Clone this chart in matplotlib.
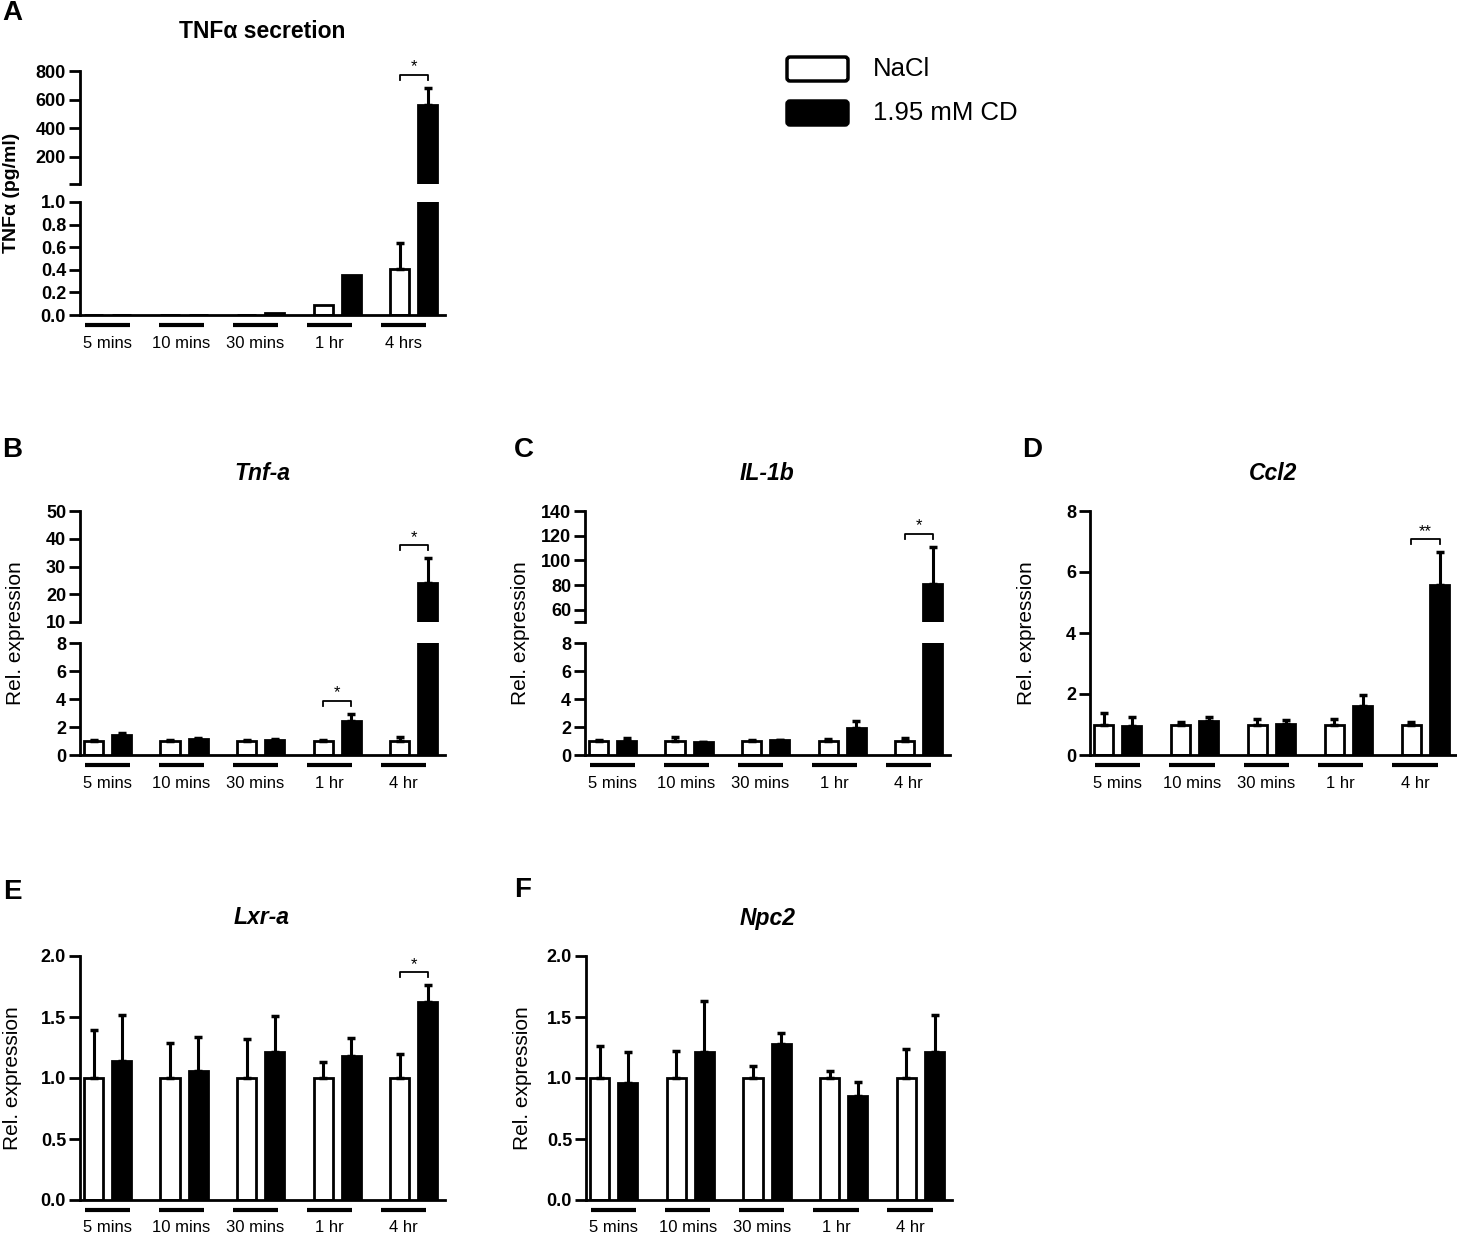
import numpy as np
import matplotlib.pyplot as plt
from matplotlib import transforms
from matplotlib.patches import FancyBboxPatch

plt.rcParams['font.family'] = ['Liberation Sans', 'DejaVu Sans']

W, H = 1457, 1236

groups = ['5 mins', '10 mins', '30 mins', '1 hr', '4 hr']
groups_a = ['5 mins', '10 mins', '30 mins', '1 hr', '4 hrs']

# A: TNFa secretion (pg/ml)
a_nacl = [0, 0, 0, 0.09, 0.41]
a_nacl_err = [0, 0, 0, 0, 0.23]
a_cd = [0, 0, 0.02, 0.35, 563]
a_cd_err = [0, 0, 0, 0, 121]

# B: Tnf-a
b_nacl = [1.0, 1.0, 1.0, 1.0, 1.0]
b_nacl_err = [0.08, 0.06, 0.08, 0.04, 0.3]
b_cd = [1.4, 1.15, 1.05, 2.4, 24]
b_cd_err = [0.15, 0.08, 0.1, 0.55, 9]

# C: IL-1b
c_nacl = [1.0, 1.0, 1.0, 1.0, 1.0]
c_nacl_err = [0.05, 0.3, 0.05, 0.15, 0.25]
c_cd = [1.0, 0.9, 1.05, 1.95, 81]
c_cd_err = [0.25, 0.05, 0.05, 0.45, 30]

# D: Ccl2
d_nacl = [1.0, 1.0, 1.0, 1.0, 1.0]
d_nacl_err = [0.37, 0.08, 0.17, 0.17, 0.07]
d_cd = [0.95, 1.1, 1.02, 1.62, 5.57]
d_cd_err = [0.3, 0.13, 0.12, 0.35, 1.07]

# E: Lxr-a
e_nacl = [1.0, 1.0, 1.0, 1.0, 1.0]
e_nacl_err = [0.39, 0.29, 0.32, 0.13, 0.2]
e_cd = [1.14, 1.06, 1.21, 1.18, 1.62]
e_cd_err = [0.38, 0.28, 0.30, 0.15, 0.14]

# F: Npc2
f_nacl = [1.0, 1.0, 1.0, 1.0, 1.0]
f_nacl_err = [0.26, 0.22, 0.1, 0.06, 0.24]
f_cd = [0.96, 1.21, 1.28, 0.855, 1.21]
f_cd_err = [0.25, 0.42, 0.09, 0.11, 0.31]

OFF = 0.183
WIDTH = 0.25
LW = 2

fig = plt.figure(figsize=(W / 100, H / 100), dpi=100)

# overlay in pixel coords for letters, titles, labels, legend
ov = fig.add_axes([0, 0, 1, 1])
ov.set_xlim(0, W)
ov.set_ylim(H, 0)
ov.axis('off')


def add_ax(left, top, right, bottom):
    ax = fig.add_axes([left / W, 1 - bottom / H, (right - left) / W, (bottom - top) / H])
    ax.patch.set_alpha(0)
    return ax


def style(ax, ylim, ticks, labels, bottom=True):
    ax.set_xlim(-0.36, 4.41)
    ax.set_ylim(*ylim)
    ax.set_yticks(ticks)
    ax.set_yticklabels(labels, fontweight='bold', fontsize=13)
    ax.tick_params(axis='y', length=8, width=2, direction='out', pad=2)
    ax.set_xticks([])
    ax.spines['top'].set_visible(False)
    ax.spines['right'].set_visible(False)
    ax.spines['left'].set_linewidth(2)
    ax.spines['bottom'].set_linewidth(2)
    if not bottom:
        ax.spines['bottom'].set_visible(False)


def draw_bars(ax, nacl, nacl_err, cd, cd_err, floor=None):
    x = np.arange(len(nacl))
    for xs, m, e, fc in [(x - OFF, nacl, nacl_err, 'white'), (x + OFF, cd, cd_err, 'black')]:
        m = np.array(m, float)
        e = np.array(e, float)
        keep = np.ones(len(m), bool) if floor is None else (m + e) > floor
        ax.bar(xs[keep], m[keep], WIDTH, color=fc, edgecolor='black', linewidth=LW, zorder=2)
        k = keep & (e > 0)
        ax.errorbar(xs[k], m[k], yerr=[np.zeros(k.sum()), e[k]], fmt='none',
                    ecolor='black', elinewidth=2.2, capsize=3, capthick=2.5, zorder=3)


def group_labels(ax, labels):
    tr = transforms.blended_transform_factory(ax.transData, ax.transAxes)
    line_tr = transforms.offset_copy(tr, fig=fig, y=-10, units='dots')
    text_tr = transforms.offset_copy(tr, fig=fig, y=-28, units='dots')
    for i, lab in enumerate(labels):
        c = i * 0.966
        ax.plot([c - 0.295, c + 0.295], [0, 0], transform=line_tr, color='black',
                lw=3, clip_on=False, solid_capstyle='butt')
        ax.text(c, 0, lab, transform=text_tr, ha='center', va='center', fontsize=12,
                clip_on=False)


def brackets(ax_lo, ax_hi, nacl, nacl_err, cd, cd_err, sig):
    for i, lab in sig:
        top = max(nacl[i] + nacl_err[i], cd[i] + cd_err[i])
        ax = ax_lo
        if ax_hi is not None and top > ax_lo.get_ylim()[1]:
            ax = ax_hi
        yd = ax.transData.transform((0, top))[1]
        inv = ax.transData.inverted()
        yb = inv.transform((0, yd + 13))[1]
        yt = inv.transform((0, yd + 8))[1]
        ys = inv.transform((0, yd + 21))[1]
        ax.plot([i - OFF, i - OFF, i + OFF, i + OFF], [yt, yb, yb, yt], color='black',
                lw=1.3, clip_on=False)
        ax.text(i, ys, lab, ha='center', va='center', fontsize=12, clip_on=False)


def broken_panel(box_lo, top_hi, bot_hi, lo, hi, data, labels, sig):
    l, t, r, b = box_lo
    ax_lo = add_ax(l, t, r, b)
    ax_hi = add_ax(l, top_hi, r, bot_hi)
    draw_bars(ax_lo, *data)
    draw_bars(ax_hi, *data, floor=hi[0][0])
    style(ax_lo, *lo)
    style(ax_hi, *hi, bottom=False)
    group_labels(ax_lo, labels)
    brackets(ax_lo, ax_hi, *data, sig)
    return ax_lo


def simple_panel(box, ylim, ticks, ticklabels, data, labels, sig):
    ax = add_ax(*box)
    draw_bars(ax, *data)
    style(ax, ylim, ticks, ticklabels)
    group_labels(ax, labels)
    brackets(ax, None, *data, sig)
    return ax


# Panel A
broken_panel((80, 202, 445, 315), 71, 184,
             ((0, 1.0), [0, 0.2, 0.4, 0.6, 0.8, 1.0], ['0.0', '0.2', '0.4', '0.6', '0.8', '1.0']),
             ((10, 800), [10, 200, 400, 600, 800], ['', '200', '400', '600', '800']),
             (a_nacl, a_nacl_err, a_cd, a_cd_err), groups_a, [(4, '*')])

# Panel B
broken_panel((80, 643, 445, 755), 511, 622,
             ((0, 8), [0, 2, 4, 6, 8], ['0', '2', '4', '6', '8']),
             ((10, 50), [10, 20, 30, 40, 50], ['10', '20', '30', '40', '50']),
             (b_nacl, b_nacl_err, b_cd, b_cd_err), groups, [(3, '*'), (4, '*')])

# Panel C
broken_panel((585, 643, 950, 755), 511, 622,
             ((0, 8), [0, 2, 4, 6, 8], ['0', '2', '4', '6', '8']),
             ((50, 140), [50, 60, 80, 100, 120, 140], ['', '60', '80', '100', '120', '140']),
             (c_nacl, c_nacl_err, c_cd, c_cd_err), groups, [(4, '*')])

# Panel D
simple_panel((1090, 511, 1457, 755), (0, 8), [0, 2, 4, 6, 8], ['0', '2', '4', '6', '8'],
             (d_nacl, d_nacl_err, d_cd, d_cd_err), groups, [(4, '**')])

# Panel E
simple_panel((80, 956, 445, 1200), (0, 2), [0, 0.5, 1.0, 1.5, 2.0],
             ['0.0', '0.5', '1.0', '1.5', '2.0'],
             (e_nacl, e_nacl_err, e_cd, e_cd_err), groups, [(4, '*')])

# Panel F
simple_panel((586, 956, 952, 1200), (0, 2), [0, 0.5, 1.0, 1.5, 2.0],
             ['0.0', '0.5', '1.0', '1.5', '2.0'],
             (f_nacl, f_nacl_err, f_cd, f_cd_err), groups, [])

# panel letters
for lab, x, y in [('A', 12, 13), ('B', 12, 450), ('C', 524, 450), ('D', 1032, 450),
                  ('E', 12, 892), ('F', 523, 890)]:
    ov.text(x, y, lab, fontsize=20, fontweight='bold', ha='center', va='center')

# titles
ov.text(262, 32, 'TNF\u03b1 secretion', fontsize=16.5, fontweight='bold', ha='center', va='center')
for lab, x, y in [('Tnf-a', 262, 473), ('IL-1b', 767, 473), ('Ccl2', 1273, 473),
                  ('Lxr-a', 262, 918), ('Npc2', 768, 918)]:
    ov.text(x, y, lab, fontsize=16.5, fontweight='bold', fontstyle='italic',
            ha='center', va='center')

# y labels
ov.text(12, 193, 'TNF\u03b1 (pg/ml)', fontsize=14, fontweight='bold', rotation=90,
        ha='center', va='center')
for x, y in [(16, 633), (521, 633), (1026, 633), (13, 1078), (523, 1078)]:
    ov.text(x, y, 'Rel. expression', fontsize=15, rotation=90, ha='center', va='center')

# legend
for y, fc, lab in [(57, 'white', 'NaCl'), (101, 'black', '1.95 mM CD')]:
    ov.add_patch(FancyBboxPatch((787, y), 61, 24, boxstyle='round,pad=0,rounding_size=3',
                                fc=fc, ec='black', lw=2.5))
    ov.text(873, y + 12, lab, fontsize=18.5, ha='left', va='center')

fig.savefig('out.png', dpi=100)
